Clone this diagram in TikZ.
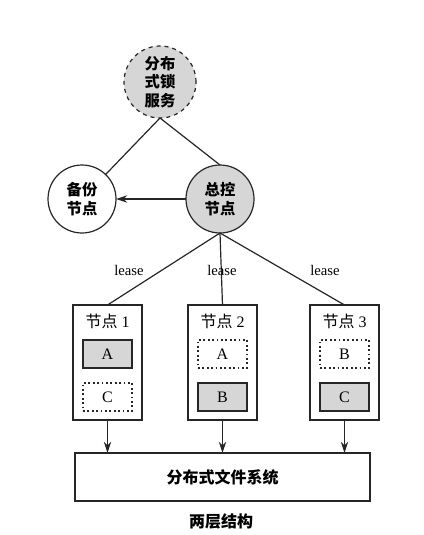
\documentclass[tikz,border=0pt]{standalone}
\usepackage{fontspec}
\setmainfont{Liberation Serif}
\newfontfamily\cjk{Noto Sans CJK SC}
\usetikzlibrary{arrows.meta}
\definecolor{shade}{HTML}{D6D6D6}
\begin{document}
\begin{tikzpicture}[x=0.75pt,y=-0.75pt,
  every node/.style={inner sep=0pt, outer sep=0pt},
  line/.style={line width=0.9pt, draw=black!85},
  arr/.style={line, -{Stealth[length=8.5pt,width=5.5pt]}},
  circ/.style={circle, line, minimum size=51pt, align=center, font=\cjk\bfseries\fontsize{11.5}{14}\selectfont},
  nodebox/.style={rectangle, line, minimum width=51.75pt, minimum height=86.25pt},
  fullbox/.style={rectangle, line, fill=shade, minimum width=36.75pt, minimum height=21pt, font=\fontsize{12}{14}\selectfont},
  emptybox/.style={rectangle, line width=1.3pt, draw=black!85, dotted, minimum width=36.75pt, minimum height=21pt, font=\fontsize{12}{14}\selectfont},
  lbl/.style={font=\fontsize{11}{13}\selectfont},
  title/.style={font=\fontsize{12}{14}\selectfont}
]
\useasboundingbox (0,0) rectangle (424,535);

\node[circ, dashed, fill=shade, minimum size=54pt] (lock) at (160,82) {分布\\式锁\\服务};
\node[circ, fill=shade] (master) at (220,199) {总控\\节点};
\node[circ, fill=white] (backup) at (82,199) {备份\\节点};

\draw[line] (lock.south) -- (backup);
\draw[line] (lock.south) -- (master.north);
\draw[arr] (master) -- (backup);

\node[nodebox] (n1) at (107.5,362.5) {};
\node[nodebox] (n2) at (222.5,362.5) {};
\node[nodebox] (n3) at (344.5,362.5) {};

\node[title] (t1) at (107.5,321) {{\cjk 节点} 1};
\node[title] (t2) at (222.5,321) {{\cjk 节点} 2};
\node[title] (t3) at (344.5,321) {{\cjk 节点} 3};

\node[fullbox] (a1) at (107.5,354) {A};
\node[emptybox] (c1) at (107.5,397) {C};
\node[emptybox] (a2) at (222.5,354) {A};
\node[fullbox] (b2) at (222.5,397) {B};
\node[emptybox] (b3) at (344.5,354) {B};
\node[fullbox] (c3) at (344.5,397) {C};

\draw[line] (master.south) -- (n1.north);
\draw[line] (master.south) -- (n2.north);
\draw[line] (master.south) -- (n3.north);

\node[lbl] (l1) at (129,270) {lease};
\node[lbl] (l2) at (222,270) {lease};
\node[lbl] (l3) at (325,270) {lease};

\node[rectangle, line, minimum width=221.25pt, minimum height=36pt,
  font=\cjk\bfseries\fontsize{12}{14}\selectfont] (fs) at (222.5,477) {分布式文件系统};

\draw[arr] (n1.south) -- (n1.south |- fs.north);
\draw[arr] (n2.south) -- (n2.south |- fs.north);
\draw[arr] (n3.south) -- (n3.south |- fs.north);

\node[font=\cjk\bfseries\fontsize{12}{14}\selectfont] (cap) at (221,521) {两层结构};
\end{tikzpicture}
\end{document}
